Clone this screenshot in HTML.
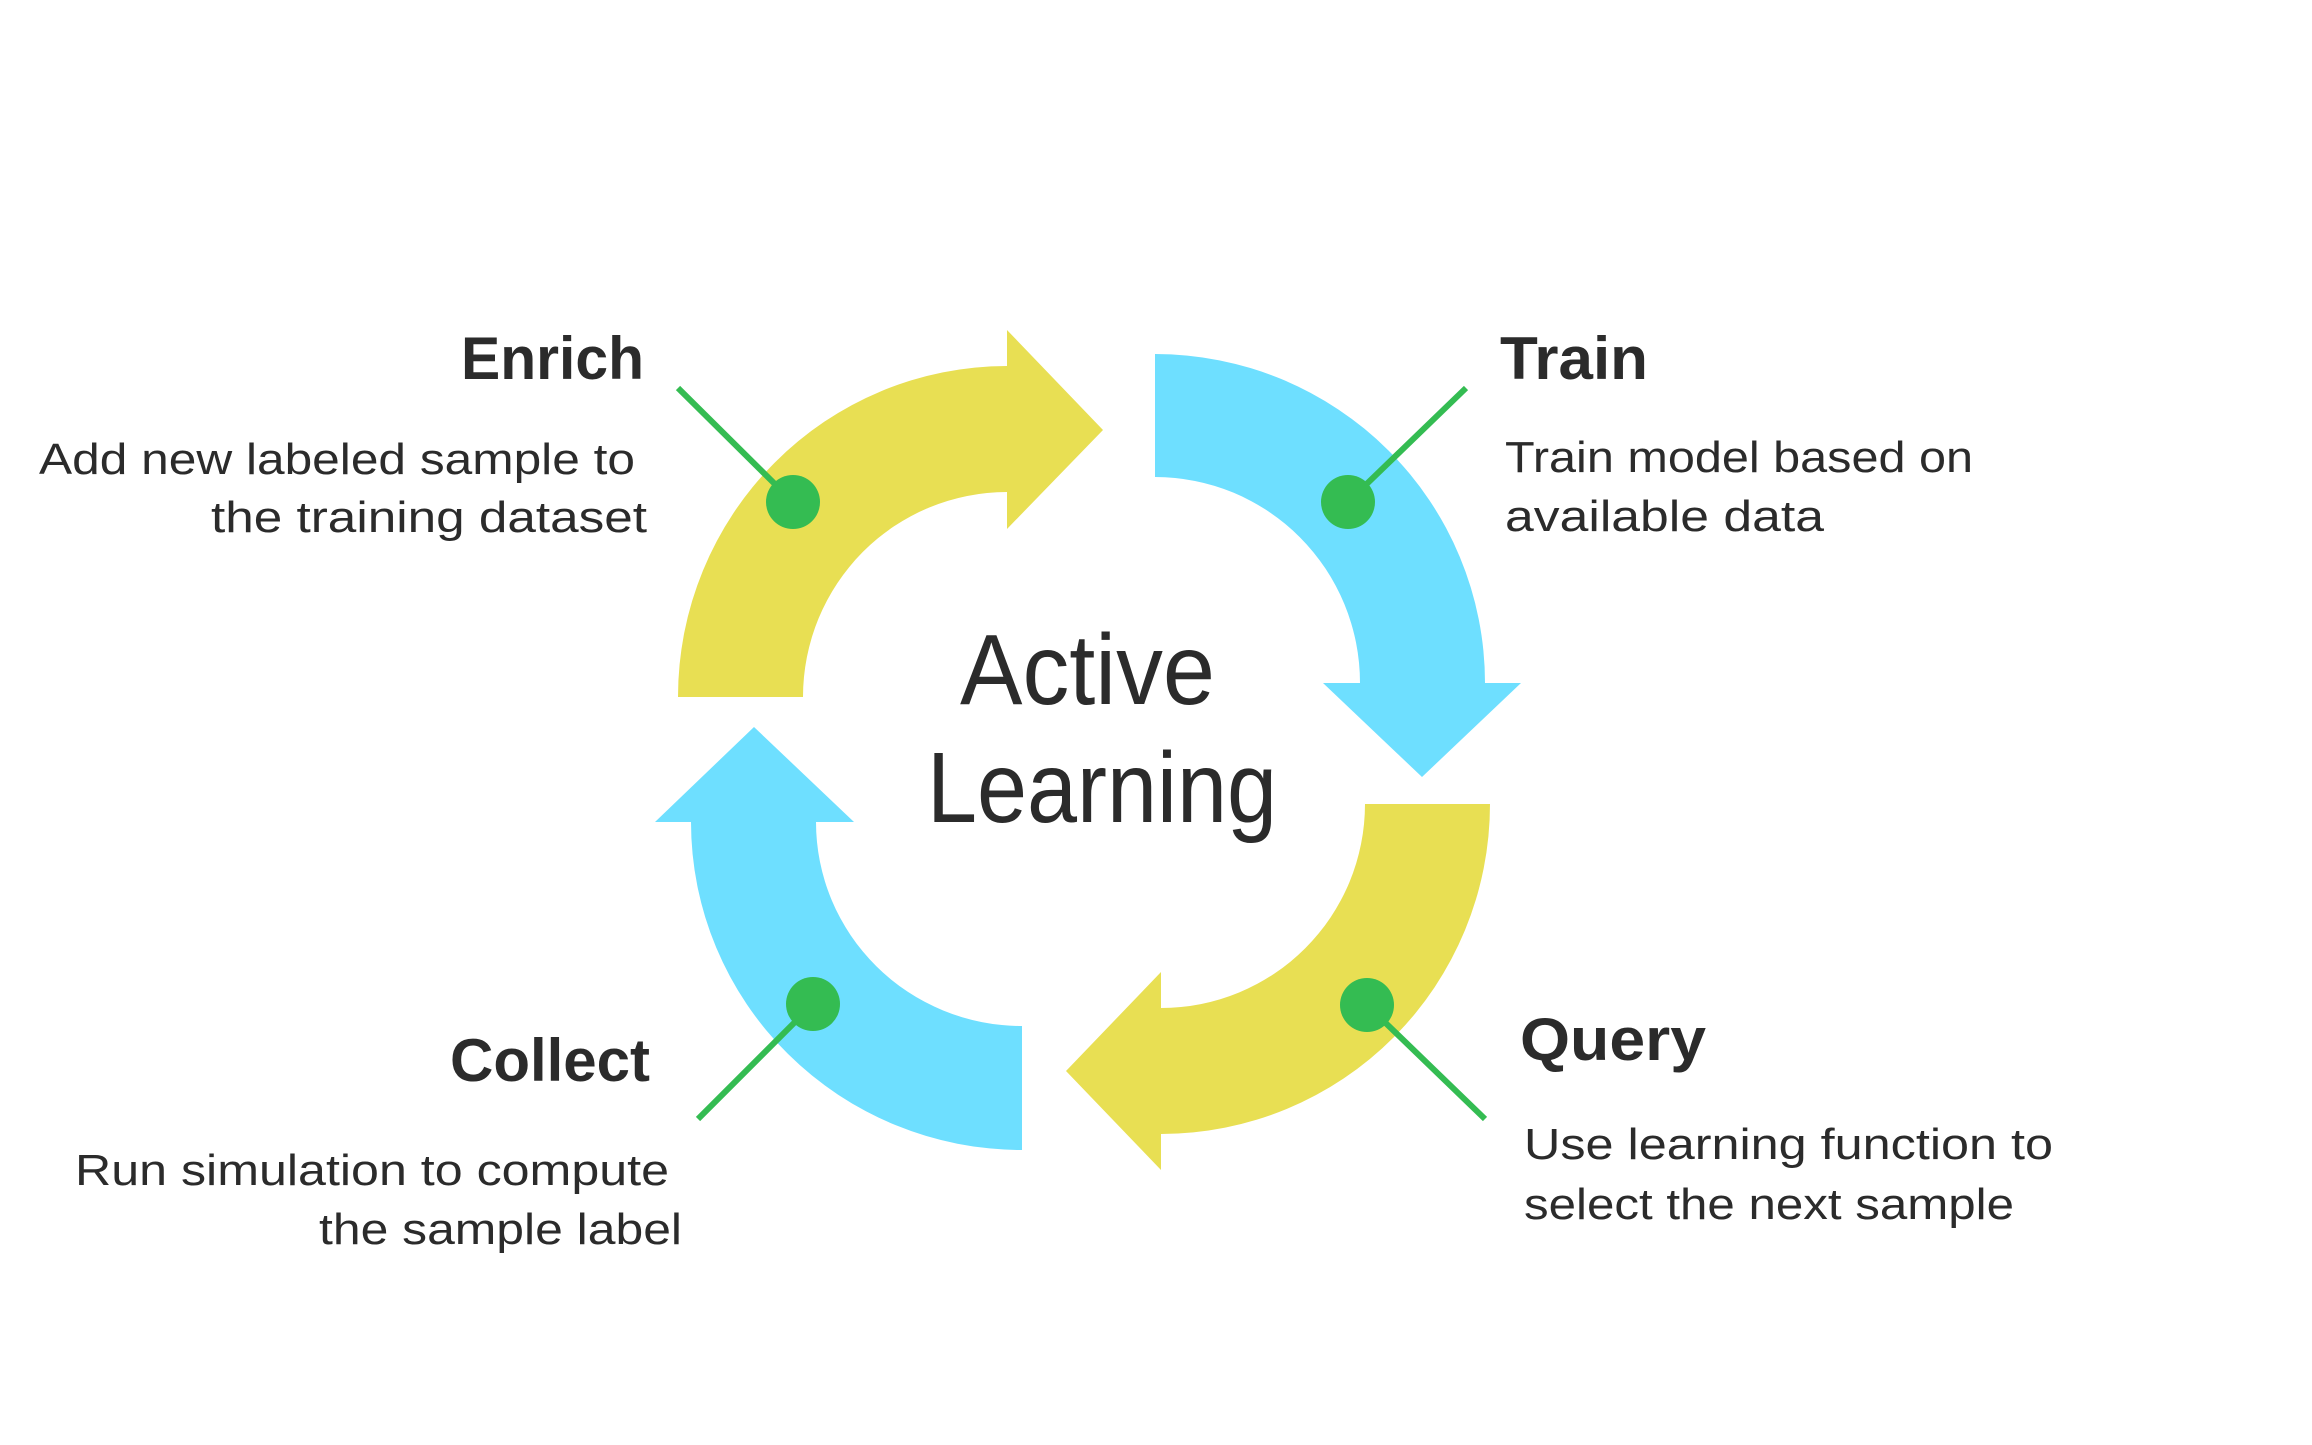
<!DOCTYPE html>
<html><head><meta charset="utf-8"><style>html,body{margin:0;padding:0;background:#fff}svg{display:block}</style></head>
<body>
<svg width="2312" height="1445" viewBox="0 0 2312 1445" xmlns="http://www.w3.org/2000/svg">
<rect width="2312" height="1445" fill="#fff"/>
<path d="M678,697 A329,331 0 0 1 1007,366 L1007,330 L1103,430 L1007,529 L1007,492 A204,205 0 0 0 803,697 Z" fill="#E8DF53"/>
<path d="M1155,354 A330,329 0 0 1 1485,683 L1521,683 L1422,777 L1323,683 L1360,683 A205,206 0 0 0 1155,477 Z" fill="#6EDFFF"/>
<path d="M1490,804 A329,330 0 0 1 1161,1134 L1161,1170 L1066,1071 L1161,972 L1161,1008 A204,204 0 0 0 1365,804 Z" fill="#E8DF53"/>
<path d="M1022,1150 A331,328 0 0 1 691,822 L655,822 L754,727 L854,822 L816,822 A206,204 0 0 0 1022,1026 Z" fill="#6EDFFF"/>
<g stroke="#34BC52" stroke-width="6">
<line x1="678" y1="388" x2="793" y2="502"/>
<line x1="1466" y1="388" x2="1348" y2="502"/>
<line x1="1485" y1="1119" x2="1367" y2="1005"/>
<line x1="698" y1="1119" x2="813" y2="1004"/>
</g>
<g fill="#34BC52">
<ellipse cx="793" cy="502" rx="27" ry="27"/>
<ellipse cx="1348" cy="502" rx="27" ry="27"/>
<ellipse cx="1367" cy="1005" rx="27" ry="27"/>
<ellipse cx="813" cy="1004" rx="27" ry="27"/>
</g>
<g fill="#2B2B2B" font-family="Liberation Sans, sans-serif">
<text x="960" y="704" font-size="100" textLength="255" lengthAdjust="spacingAndGlyphs">Active</text>
<text x="927" y="822" font-size="100" textLength="350" lengthAdjust="spacingAndGlyphs">Learning</text>
<g font-weight="bold" font-size="60">
<text x="644" y="379" text-anchor="end" textLength="183" lengthAdjust="spacingAndGlyphs">Enrich</text>
<text x="1500" y="379" textLength="148" lengthAdjust="spacingAndGlyphs">Train</text>
<text x="1520" y="1060" textLength="186" lengthAdjust="spacingAndGlyphs">Query</text>
<text x="650" y="1081" text-anchor="end" textLength="200" lengthAdjust="spacingAndGlyphs">Collect</text>
</g>
<g font-size="44">
<text x="39" y="474" textLength="596" lengthAdjust="spacingAndGlyphs">Add new labeled sample to</text>
<text x="211" y="532" textLength="436" lengthAdjust="spacingAndGlyphs">the training dataset</text>
<text x="1505" y="472" textLength="468" lengthAdjust="spacingAndGlyphs">Train model based on</text>
<text x="1505" y="531" textLength="319" lengthAdjust="spacingAndGlyphs">available data</text>
<text x="1524" y="1159" textLength="529" lengthAdjust="spacingAndGlyphs">Use learning function to</text>
<text x="1524" y="1219" textLength="490" lengthAdjust="spacingAndGlyphs">select the next sample</text>
<text x="75" y="1185" textLength="594" lengthAdjust="spacingAndGlyphs">Run simulation to compute</text>
<text x="319" y="1244" textLength="363" lengthAdjust="spacingAndGlyphs">the sample label</text>
</g>
</g>
</svg>
</body></html>
